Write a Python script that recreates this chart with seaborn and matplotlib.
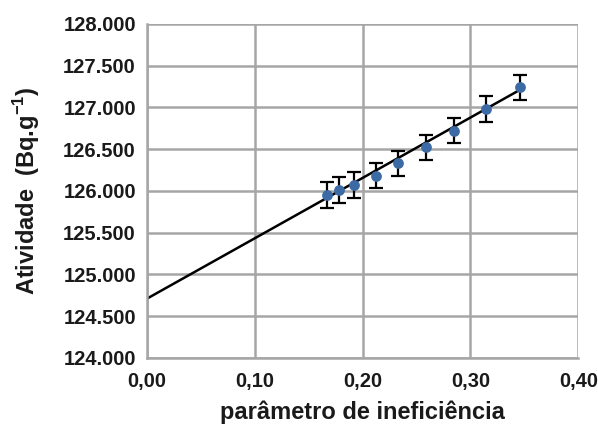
import numpy as np
import pandas as pd
import matplotlib
matplotlib.use("Agg")
import matplotlib.pyplot as plt
import seaborn as sns

# data
param_x = [0.167, 0.178, 0.1915, 0.212, 0.233, 0.2586, 0.2849, 0.3143, 0.346]
atividade = [125.95, 126.01, 126.07, 126.18, 126.33, 126.52, 126.72, 126.98, 127.24]
erro = [0.15, 0.15, 0.15, 0.15, 0.15, 0.15, 0.15, 0.15, 0.15]

# trend line endpoints
trend_x = [0.0, 0.346]
trend_y = [124.71, 127.21]

x_ticks = [0.0, 0.1, 0.2, 0.3, 0.4]
x_ticklabels = ["0,00", "0,10", "0,20", "0,30", "0,40"]
y_ticks = [124.0, 124.5, 125.0, 125.5, 126.0, 126.5, 127.0, 127.5, 128.0]
y_ticklabels = ["124.000", "124.500", "125.000", "125.500", "126.000",
                "126.500", "127.000", "127.500", "128.000"]

sns.set_style("white")
plt.rcParams['font.family'] = ['Liberation Sans', 'DejaVu Sans']
plt.rcParams['mathtext.fontset'] = 'custom'
plt.rcParams['mathtext.rm'] = 'Liberation Sans:bold'
plt.rcParams['mathtext.bf'] = 'Liberation Sans:bold'

df = pd.DataFrame({"x": param_x, "y": atividade, "err": erro})
trend = pd.DataFrame({"x": trend_x, "y": trend_y})

fig = plt.figure(figsize=(5.98, 4.25), dpi=100)
ax = fig.add_axes([0.246, 0.158, 0.721, 0.786])

grid_color = "#a6a6a6"
ax.grid(True, color=grid_color, linewidth=1.8)
ax.set_axisbelow(True)

sns.lineplot(data=trend, x="x", y="y", color="black", linewidth=1.8, ax=ax, zorder=2)
ax.errorbar(df["x"], df["y"], yerr=df["err"], fmt="none", ecolor="black",
            elinewidth=1.6, capsize=5, capthick=1.6, zorder=3)
sns.scatterplot(data=df, x="x", y="y", color="#3c6aa5", s=60, edgecolor="#3c6aa5",
                linewidth=0, ax=ax, zorder=4)

ax.set_xlim(0, 0.40)
ax.set_ylim(124.0, 128.0)
ax.set_xticks(x_ticks)
ax.set_xticklabels(x_ticklabels)
ax.set_yticks(y_ticks)
ax.set_yticklabels(y_ticklabels)

for side in ["top", "right"]:
    ax.spines[side].set_visible(False)
for side in ["left", "bottom"]:
    ax.spines[side].set_color(grid_color)
    ax.spines[side].set_linewidth(1.8)

ax.tick_params(axis="both", direction="out", length=5, width=1.5, color=grid_color,
               labelsize=14.5, pad=3)
ax.tick_params(axis="x", pad=5)
for lbl in ax.get_xticklabels() + ax.get_yticklabels():
    lbl.set_fontweight("bold")
    lbl.set_color("#1a1a1a")

ax.set_xlabel("parâmetro de ineficiência", fontsize=17, fontweight="bold",
              color="#1a1a1a", labelpad=7)
ax.set_ylabel("Atividade  (Bq.g$^{-1}$)", fontsize=17, fontweight="bold",
              color="#1a1a1a", labelpad=15)

fig.savefig("out.png", dpi=100)
